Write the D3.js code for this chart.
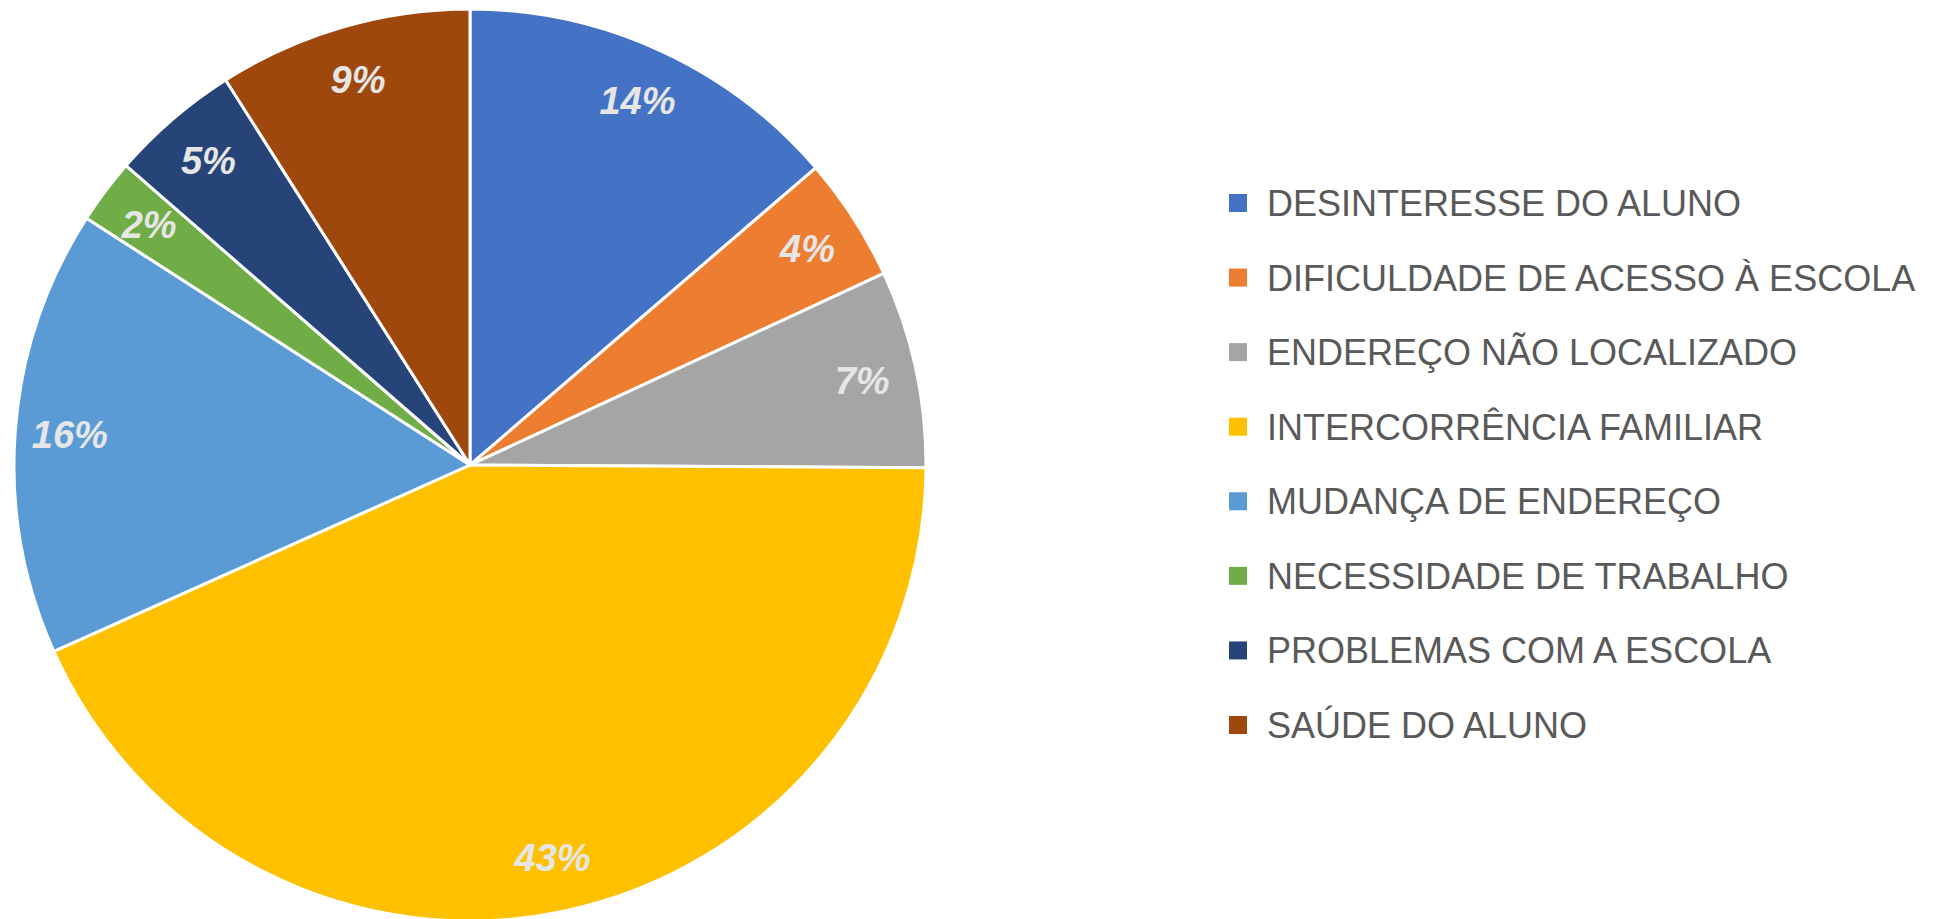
<!DOCTYPE html>
<html>
<head>
<meta charset="utf-8">
<script src="https://cdn.jsdelivr.net/npm/d3@7"></script>
<style>
  html, body { margin: 0; padding: 0; background: #fff; }
  svg { display: block; }
</style>
</head>
<body>
<svg width="1951" height="919"></svg>
<script>
'use strict';
(() => {

var categories = [
  'DESINTERESSE DO ALUNO',
  'DIFICULDADE DE ACESSO À ESCOLA',
  'ENDEREÇO NÃO LOCALIZADO',
  'INTERCORRÊNCIA FAMILIAR',
  'MUDANÇA DE ENDEREÇO',
  'NECESSIDADE DE TRABALHO',
  'PROBLEMAS COM A ESCOLA',
  'SAÚDE DO ALUNO'
];
var values = [13.7, 4.4, 7.0, 43.2, 15.8, 2.3, 4.6, 9.0];
var colors = ['#4472C4', '#ED7D31', '#A5A5A5', '#FFC000', '#5B9BD5', '#70AD47', '#264478', '#9E480E'];

  var svg = d3.select('svg');
  var R = 456;
  var cx = 470, cy = 465;

  var total = d3.sum(values);
  var data = values.map((v, i) => ({ name: categories[i], value: v, i: i }));

  var pie = d3.pie().value(d => d.value).sort(null);
  var arc = d3.arc().innerRadius(0).outerRadius(R);
  var labelArc = d3.arc().innerRadius(R * 0.88).outerRadius(R * 0.88);

  var color = d3.scaleOrdinal().domain(categories).range(colors);

  var g = svg.append('g').attr('transform', `translate(${cx}, ${cy})`);
  var slices = g.selectAll('g.slice').data(pie(data)).enter().append('g').attr('class', 'slice');

  slices.append('path')
    .attr('d', arc)
    .attr('fill', d => color(d.data.name))
    .attr('stroke', '#fff')
    .attr('stroke-width', 3)
    .attr('stroke-linejoin', 'round');

  slices.append('text')
    .attr('transform', d => `translate(${labelArc.centroid(d)})`)
    .attr('text-anchor', 'middle')
    .attr('dy', '0.36em')
    .attr('font-family', 'Liberation Sans, Arial, sans-serif')
    .attr('font-weight', 'bold')
    .attr('font-style', 'italic')
    .attr('font-size', 38)
    .attr('fill', '#e6e6e6')
    .text(d => Math.round(d.data.value / total * 100) + '%');

  // legend
  var legendY = d3.scalePoint().domain(categories).range([203, 725]);
  var lg = svg.append('g').selectAll('g').data(categories).enter().append('g')
    .attr('transform', d => `translate(1229, ${legendY(d)})`);
  lg.append('rect')
    .attr('x', 0)
    .attr('y', -9)
    .attr('width', 18)
    .attr('height', 18)
    .attr('fill', d => color(d));
  lg.append('text')
    .attr('x', 38)
    .attr('dy', '0.36em')
    .attr('font-family', 'Liberation Sans, Arial, sans-serif')
    .attr('font-size', 36)
    .attr('fill', '#595959')
    .text(d => d);

})();
</script>
</body>
</html>
